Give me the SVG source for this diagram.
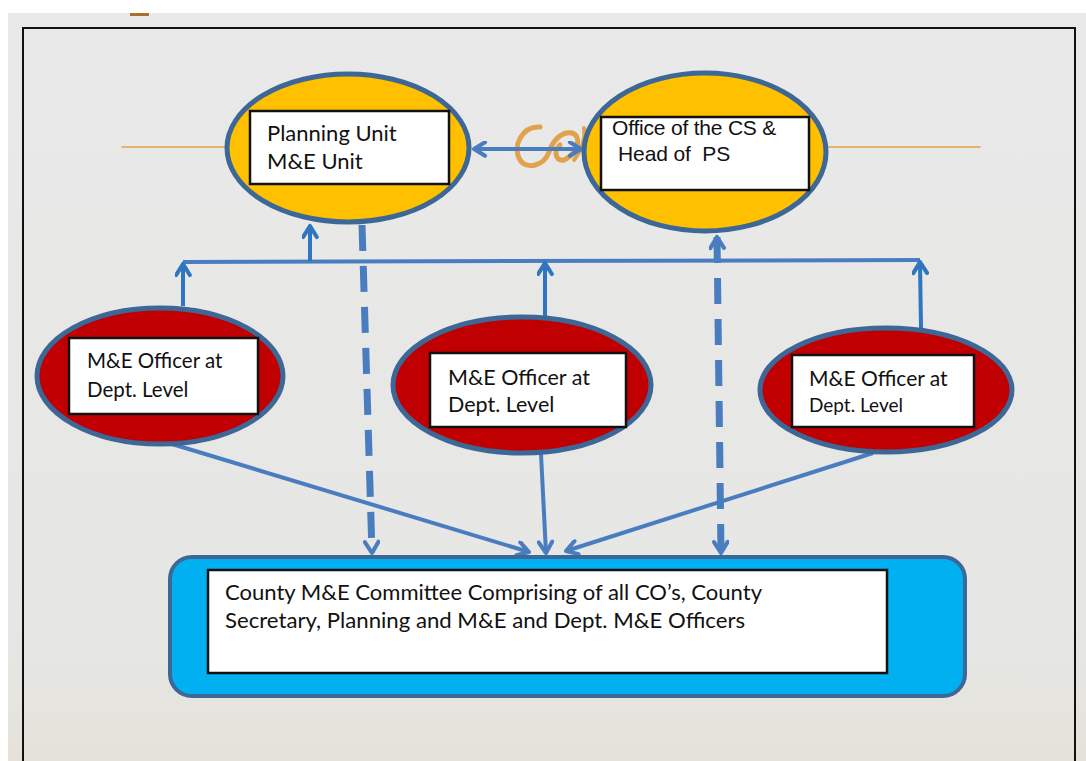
<svg xmlns="http://www.w3.org/2000/svg" width="1086" height="761" viewBox="0 0 1086 761">
  <defs>
    <linearGradient id="bg" x1="0" y1="0" x2="0" y2="1">
      <stop offset="0" stop-color="#e9e9e9"/>
      <stop offset="0.85" stop-color="#e6e6e4"/>
      <stop offset="1" stop-color="#e4e2d8"/>
    </linearGradient>
    <marker id="arr" viewBox="0 0 10 10" refX="8" refY="5" markerWidth="17" markerHeight="17" markerUnits="userSpaceOnUse" orient="auto-start-reverse">
      <path d="M1.5,1 L8,5 L1.5,9" fill="none" stroke="#4a7dc0" stroke-width="2.4" stroke-dasharray="none" stroke-linecap="round" stroke-linejoin="round"/>
    </marker>
    <marker id="arrB" viewBox="0 0 10 10" refX="8" refY="5" markerWidth="17" markerHeight="17" markerUnits="userSpaceOnUse" orient="auto-start-reverse">
      <path d="M1.5,1 L8,5 L1.5,9" fill="none" stroke="#2f75c0" stroke-width="2.4" stroke-dasharray="none" stroke-linecap="round" stroke-linejoin="round"/>
    </marker>
  </defs>
  <style>
    .oval-y { fill: #ffc000; stroke: #3d6797; stroke-width: 5; }
    .oval-r { fill: #c00000; stroke: #3d6797; stroke-width: 5; }
    .box { fill: #ffffff; stroke: #111111; stroke-width: 2.5; }
    .cal { font-family: Lato, "Open Sans", "Liberation Sans", sans-serif; fill: #111111; }
    .ari { font-family: "Liberation Sans", Arial, sans-serif; fill: #111111; }
    .conn { fill: none; stroke: #4a7dc0; stroke-width: 4; }
    .up { fill: none; stroke: #2f75c0; stroke-width: 4; }
    .dash { fill: none; stroke: #4a7dc0; stroke-width: 7; stroke-dasharray: 26 15; }
    .gold { fill: none; stroke: #e0a24a; stroke-linecap: round; }
  </style>

  <!-- background -->
  <rect x="0" y="0" width="1086" height="761" fill="#ffffff"/>
  <rect x="8" y="13" width="1078" height="748" fill="url(#bg)"/>
  <rect x="130" y="13" width="19" height="3" fill="#a8702e"/>
  <path d="M23,761 V28 H1075 V761" fill="none" stroke="#111111" stroke-width="2"/>

  <!-- decorative gold lines and ornament -->
  <g id="ornament">
    <line class="gold" x1="122" y1="147" x2="228" y2="147" stroke-width="1.5"/>
    <line class="gold" x1="826" y1="147" x2="980" y2="147" stroke-width="1.5"/>
    <path class="gold" stroke-width="5" d="M540,127 C522,126 512,146 520,160 C527,170 544,166 549,152 C553,140 562,131 572,133 C582,136 578,152 566,159 C557,164 552,152 560,145"/>
    <path class="gold" stroke-width="4" d="M574,160 C580,152 586,140 584,128"/>
  </g>

  <!-- connectors -->
  <g id="connectors">
    <line class="conn" x1="474" y1="149" x2="581" y2="149" marker-start="url(#arr)" marker-end="url(#arr)"/>
    <line class="conn" x1="183" y1="262" x2="920" y2="260"/>
    <line class="up" x1="183" y1="306" x2="183" y2="264" marker-end="url(#arrB)"/>
    <line class="up" x1="545" y1="316" x2="545" y2="263" marker-end="url(#arrB)"/>
    <line class="up" x1="921" y1="328" x2="920" y2="262" marker-end="url(#arrB)"/>
    <line class="up" x1="310" y1="261" x2="310" y2="226" marker-end="url(#arrB)"/>
    <line class="dash" x1="362" y1="225" x2="372" y2="553" marker-end="url(#arr)"/>
    <line class="dash" x1="717" y1="237" x2="721" y2="553" stroke-width="6" marker-start="url(#arr)" marker-end="url(#arr)"/>
    <line class="conn" x1="172" y1="444" x2="529" y2="552" marker-end="url(#arr)"/>
    <line class="conn" x1="541" y1="454" x2="546" y2="553" marker-end="url(#arr)"/>
    <line class="conn" x1="873" y1="453" x2="566" y2="551" marker-end="url(#arr)"/>
  </g>

  <!-- nodes -->
  <g id="planning">
    <ellipse class="oval-y" cx="348" cy="148" rx="121" ry="74"/>
    <rect class="box" x="250" y="111" width="199" height="73"/>
    <text class="cal" x="267" y="141" font-size="22">Planning Unit</text>
    <text class="cal" x="267" y="169" font-size="22">M&amp;E Unit</text>
  </g>

  <g id="office">
    <ellipse class="oval-y" cx="705" cy="152" rx="121" ry="79"/>
    <rect class="box" x="601" y="117" width="208" height="73"/>
    <text class="ari" x="612" y="135" font-size="21" letter-spacing="-0.2">Office of the CS &amp;</text>
    <text class="ari" x="618" y="161" font-size="21" letter-spacing="-0.1" xml:space="preserve">Head of  PS</text>
  </g>

  <g id="officer-left">
    <ellipse class="oval-r" cx="160" cy="376" rx="123" ry="68"/>
    <rect class="box" x="69" y="338" width="189" height="76"/>
    <text class="cal" x="87" y="368" font-size="20.5">M&amp;E Officer at</text>
    <text class="cal" x="87" y="397" font-size="20.5">Dept. Level</text>
  </g>

  <g id="officer-middle">
    <ellipse class="oval-r" cx="522" cy="385" rx="129" ry="68"/>
    <rect class="box" x="430" y="353" width="196" height="74"/>
    <text class="cal" x="448" y="385" font-size="21.5">M&amp;E Officer at</text>
    <text class="cal" x="448" y="412" font-size="21.5">Dept. Level</text>
  </g>

  <g id="officer-right">
    <ellipse class="oval-r" cx="886" cy="390" rx="126" ry="62"/>
    <rect class="box" x="792" y="355" width="182" height="72"/>
    <text class="cal" x="809" y="386" font-size="21">M&amp;E Officer at</text>
    <text class="cal" x="809" y="412" font-size="19">Dept. Level</text>
  </g>

  <g id="committee">
    <rect x="170" y="557" width="795" height="139" rx="22" ry="22" fill="#00b0f0" stroke="#3d6797" stroke-width="4"/>
    <rect class="box" x="208" y="570" width="679" height="103"/>
    <text class="cal" x="225" y="600" font-size="21" textLength="537" lengthAdjust="spacingAndGlyphs">County M&amp;E Committee Comprising of all CO’s, County</text>
    <text class="cal" x="225" y="628" font-size="21" textLength="520" lengthAdjust="spacingAndGlyphs">Secretary, Planning and M&amp;E and Dept. M&amp;E Officers</text>
  </g>
</svg>
